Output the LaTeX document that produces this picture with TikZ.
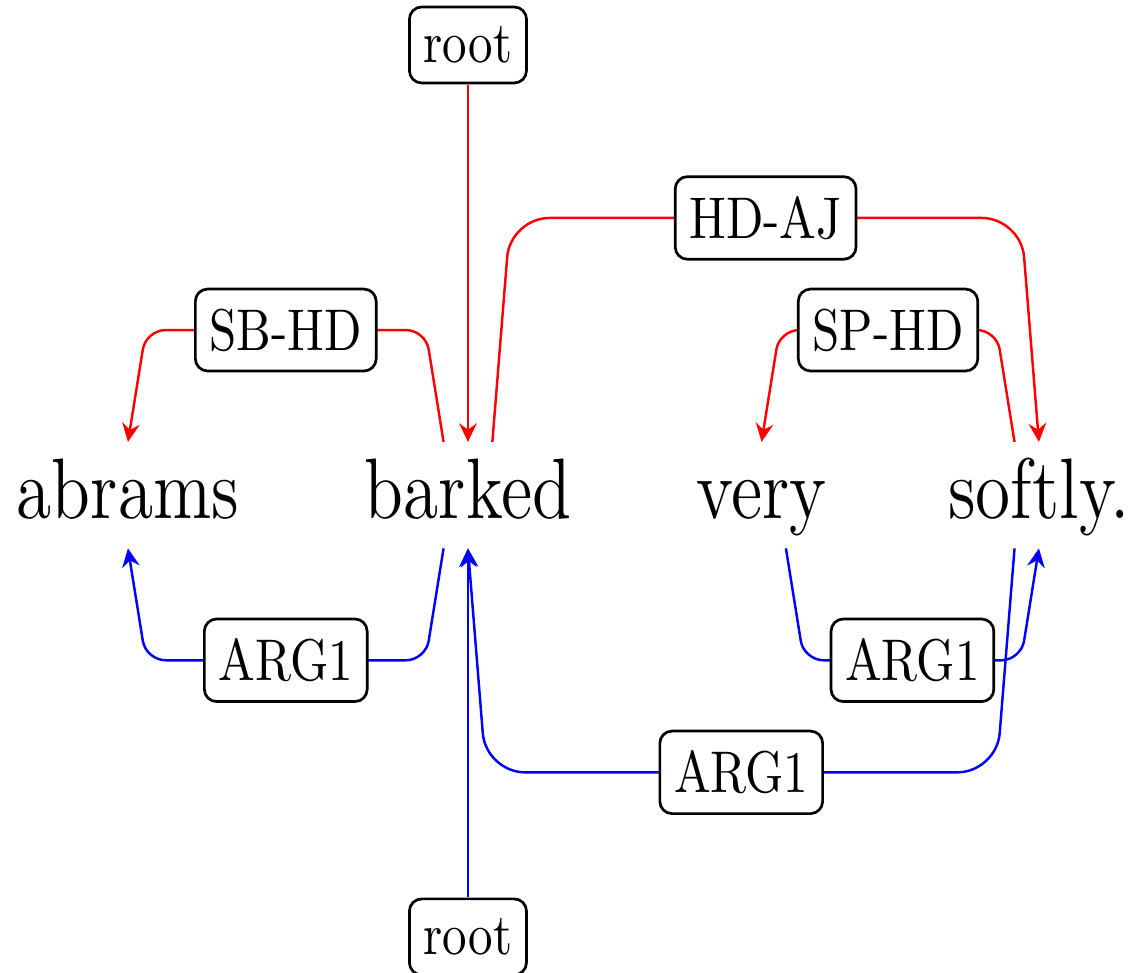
\documentclass[tikz,border=0pt]{standalone}
\usepackage{xcolor}
\usepackage{tikz}
\usetikzlibrary{arrows.meta, calc}

\begin{document}
\begin{tikzpicture}[yscale=1.2,
		every node/.style={transform shape},
		word/.style={font=\fontsize{14.6}{17}\selectfont, anchor=base, inner xsep=0pt, inner ysep=1.5pt, text height=11.4pt, text depth=3.3pt},
		lbl/.style={draw=black, text=black, fill=white, rounded corners=2.5pt, line width=0.55pt, inner xsep=2.9pt},
		deparc/.style={line width=0.5pt, -{Stealth[length=3.8pt, width=3.6pt, inset=1.3pt]}},
		headarc/.style={deparc, red},
		argarc/.style={deparc, blue}]
			
			\useasboundingbox (0,0) rectangle (8.135,-5.816);
			
			\node[word] (abrams) at (0.918,-3.102) {abrams};
			\node[word] (barked) at (3.357,-3.102) {barked};
			\node[word] (very) at (5.463,-3.102) {very};
			\node[word] (softly) at (7.453,-3.102) {softly.};
			
			\node[lbl] (roottop) at (3.357,-0.269) {root};
			\node[lbl] (rootbot) at (3.357,-5.601) {root};
			
			\draw[headarc] (roottop) -- (barked.north);
			\draw[headarc, rounded corners=4pt] ([xshift=-0.175cm]barked.north) -- ++(-0.129,0.669)
				-- node[lbl] (sbhd) {SB-HD} ($(abrams.north)+(0.129,0.669)$) -- (abrams.north);
			\draw[headarc, rounded corners=8pt] ([xshift=0.175cm]barked.north) -- ++(0.129,1.339)
				-- node[lbl] (hdaj) {HD-AJ} ($(softly.north)+(-0.129,1.339)$) -- (softly.north);
			\draw[headarc, rounded corners=4pt] ([xshift=-0.175cm]softly.north) -- ++(-0.129,0.669)
				-- node[lbl] (sphd) {SP-HD} ($(very.north)+(0.129,0.669)$) -- (very.north);
			
			\draw[argarc] (rootbot) -- (barked.south);
			\draw[argarc, rounded corners=4pt] ([xshift=-0.175cm]barked.south) -- ++(-0.129,-0.669)
				-- node[lbl] (argabrams) {ARG1} ($(abrams.south)+(0.129,-0.669)$) -- (abrams.south);
			\draw[argarc, rounded corners=4pt] ([xshift=0.175cm]very.south) -- ++(0.129,-0.669)
				-- node[lbl] (argvery) {ARG1} ($(softly.south)+(-0.129,-0.669)$) -- (softly.south);
			\draw[argarc, rounded corners=8pt] ([xshift=-0.175cm]softly.south) -- ++(-0.129,-1.339)
				-- node[lbl] (argsoftly) {ARG1} ($(barked.south)+(0.129,-1.339)$) -- (barked.south);
			
		\end{tikzpicture}
\end{document}
